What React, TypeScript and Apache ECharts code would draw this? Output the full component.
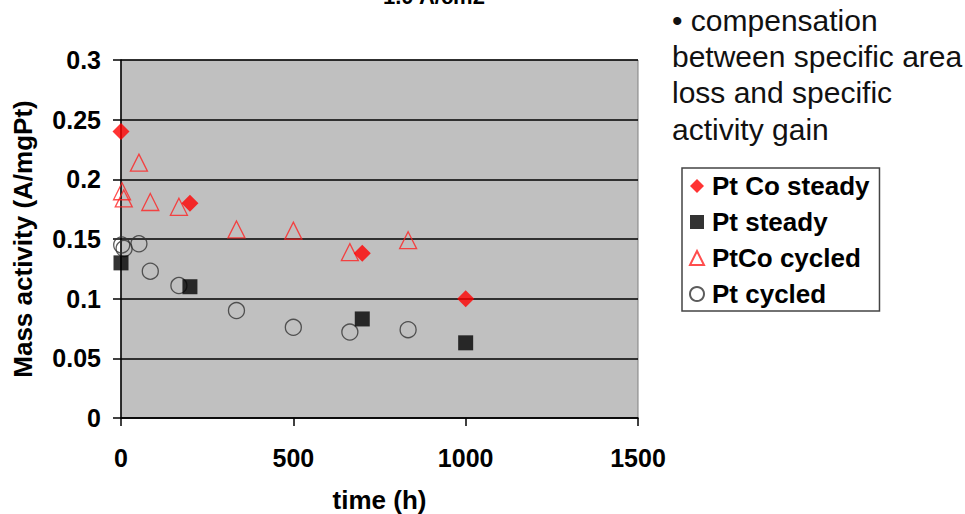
import React, { useEffect, useRef } from "react";
import * as echarts from "echarts";

const ptcoSteadyX = [0, 200, 700, 1000];
const ptcoSteadyY = [0.24, 0.18, 0.138, 0.1];
const ptSteadyX = [0, 200, 700, 1000];
const ptSteadyY = [0.13, 0.11, 0.083, 0.063];
const ptcoCycledX = [3, 8, 52, 85, 168, 335, 500, 664, 833];
const ptcoCycledY = [0.19, 0.184, 0.214, 0.181, 0.177, 0.158, 0.157, 0.139, 0.149];
const ptCycledX = [2, 9, 52, 85, 168, 335, 500, 664, 833];
const ptCycledY = [0.145, 0.142, 0.146, 0.123, 0.111, 0.09, 0.076, 0.072, 0.074];

const seriesNames = ["Pt Co steady", "Pt steady", "PtCo cycled", "Pt cycled"];
const titleText = "1.0 A/cm2";
const noteLines = ["• compensation", "between specific area", "loss and specific", "activity gain"];

const zip = (xs: number[], ys: number[]) => xs.map((x, i) => [x, ys[i]]);

const FONT = "'Liberation Sans', Arial, sans-serif";

export default function App() {
  const ref = useRef<HTMLDivElement>(null);
  useEffect(() => {
    if (!ref.current) return;
    const chart = echarts.init(ref.current, null, { renderer: "svg" });
    chart.setOption({
      animation: false,
      backgroundColor: "#ffffff",
      textStyle: { fontFamily: FONT },
      grid: {
        left: 121,
        right: 327,
        top: 60,
        bottom: 96,
        outerBoundsMode: "none",
        containLabel: false,
        show: true,
        backgroundColor: "#c0c0c0",
        borderColor: "#808080",
        borderWidth: 1,
      },
      legend: {
        data: seriesNames,
        orient: "vertical",
        left: 682,
        top: 168,
        width: 197,
        padding: [5, 10, 4, 7],
        itemGap: 10,
        itemWidth: 14,
        itemHeight: 14,
        borderColor: "#444444",
        borderWidth: 1.5,
        textStyle: {
          fontFamily: FONT,
          fontWeight: "bold",
          fontSize: 26,
          color: "#000",
          padding: [0, 0, 0, 3],
        },
      },
      xAxis: {
        type: "value",
        min: 0,
        max: 1500,
        interval: 500,
        name: "time (h)",
        nameLocation: "middle",
        nameGap: 69,
        nameTextStyle: { fontFamily: FONT, fontWeight: "bold", fontSize: 26, color: "#000" },
        axisLine: { show: true, onZero: false, lineStyle: { color: "#000", width: 1.5 } },
        axisTick: { show: true, inside: false, length: 8, lineStyle: { color: "#000", width: 1.5 } },
        axisLabel: {
          margin: 27,
          fontFamily: FONT,
          fontWeight: "bold",
          fontSize: 25,
          color: "#000",
          formatter: (v: number) => String(v),
        },
        splitLine: { show: false },
      },
      yAxis: {
        type: "value",
        min: 0,
        max: 0.3,
        interval: 0.05,
        name: "Mass activity (A/mgPt)",
        nameLocation: "middle",
        nameGap: 85,
        nameTextStyle: { fontFamily: FONT, fontWeight: "bold", fontSize: 26, color: "#000" },
        axisLine: { show: true, lineStyle: { color: "#000", width: 1.5 } },
        axisTick: { show: true, inside: false, length: 8, lineStyle: { color: "#000", width: 1.5 } },
        axisLabel: {
          margin: 20,
          fontFamily: FONT,
          fontWeight: "bold",
          fontSize: 25,
          color: "#000",
          formatter: (v: number) => String(Math.round(v * 100) / 100),
        },
        splitLine: { show: true, lineStyle: { color: "#000", width: 1.5 } },
      },
      graphic: [
        {
          type: "text",
          left: 383,
          top: -15,
          style: { text: titleText, font: `bold 22px ${FONT}`, fill: "#000" },
        },
        {
          type: "text",
          left: 672,
          top: 2,
          style: {
            text: noteLines.join("\n"),
            font: `30px ${FONT}`,
            lineHeight: 36.3,
            fill: "#111",
          },
        },
      ],
      series: [
        {
          name: "PtCo cycled",
          type: "scatter",
          symbol: "triangle",
          symbolSize: 17,
          data: zip(ptcoCycledX, ptcoCycledY),
          itemStyle: { color: "rgba(0,0,0,0)", borderColor: "#ff2020", borderWidth: 1.3 },
          z: 2,
        },
        {
          name: "Pt cycled",
          type: "scatter",
          symbol: "circle",
          symbolSize: 16,
          data: zip(ptCycledX, ptCycledY),
          itemStyle: { color: "rgba(0,0,0,0)", borderColor: "#333333", borderWidth: 1.3 },
          z: 2,
        },
        {
          name: "Pt Co steady",
          type: "scatter",
          symbol: "diamond",
          symbolSize: 17,
          data: zip(ptcoSteadyX, ptcoSteadyY),
          itemStyle: { color: "#ff0000" },
          z: 3,
        },
        {
          name: "Pt steady",
          type: "scatter",
          symbol: "rect",
          symbolSize: 15,
          data: zip(ptSteadyX, ptSteadyY),
          itemStyle: { color: "#000000" },
          z: 3,
        },
      ],
    });
    return () => chart.dispose();
  }, []);
  return (
    <div
      ref={ref}
      style={{ position: "absolute", left: 0, top: 0, width: 965, height: 514 }}
    />
  );
}
